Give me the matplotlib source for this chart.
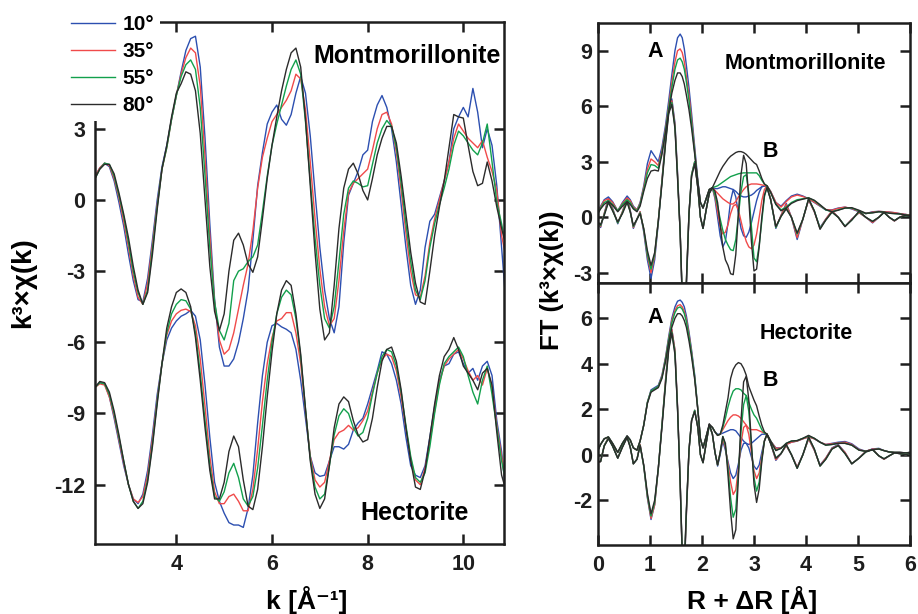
import numpy as np
import matplotlib
matplotlib.use("Agg")
import matplotlib.pyplot as plt

plt.rcParams['font.family'] = ['Liberation Sans', 'DejaVu Sans']
plt.rcParams['font.weight'] = 'bold'
plt.rcParams['axes.unicode_minus'] = False

angles = ['10°', '35°', '55°', '80°']
colors = ['#2c4fb0', '#f04a4a', '#12a04c', '#2b2b2b']

# ---- left panel: k^3 chi(k), k grid 2.3 .. 10.9 step 0.1
k = np.round(np.arange(2.3, 10.95, 0.1), 2)

mont_10 = [1.0, 1.35, 1.55, 1.4, 0.8, -0.1, -1.1, -2.3, -3.4, -4.2,
           -4.3, -3.3, -1.7, 0.0, 1.4, 2.3, 3.4, 4.4, 5.4, 6.3,
           6.8, 6.9, 5.6, 2.6, -1.0, -4.2, -6.2, -7.0, -7.0, -6.7,
           -6.0, -5.0, -3.8, -1.7, 0.6, 2.0, 3.2, 3.7, 4.0, 3.4,
           3.15, 3.6, 4.5, 5.2, 4.5, 2.7, 0.3, -2.0, -3.8, -5.0,
           -5.6, -4.5, -1.8, 0.2, 0.7, 1.2, 1.9, 2.1, 3.3, 4.0,
           4.4, 3.9, 3.0, 1.6, -0.2, -2.0, -3.6, -4.4, -3.8, -2.0,
           -0.9, -0.6, 0.1, 0.8, 1.6, 3.0, 3.5, 3.9, 3.5, 4.7,
           3.7, 2.2, 3.0, 2.3, 0.6, -2.0, -4.6]
mont_35 = [1.0, 1.35, 1.55, 1.45, 0.9, 0.1, -0.9, -2.0, -3.2, -4.1,
           -4.4, -3.5, -1.9, -0.2, 1.3, 2.2, 3.4, 4.4, 5.3, 6.0,
           6.4, 6.2, 4.8, 1.8, -1.5, -4.3, -5.9, -6.5, -6.3, -5.6,
           -4.6, -3.6, -2.7, -1.3, 0.5, 1.8, 2.6, 3.3, 3.6, 3.9,
           4.2, 4.6, 5.3, 5.1, 3.8, 1.6, -0.8, -2.9, -4.5, -5.3,
           -5.0, -3.4, -1.3, 0.3, 0.7, 0.9, 1.1, 1.3, 2.1, 3.0,
           3.6, 3.7, 3.2, 2.0, 0.4, -1.4, -3.0, -4.0, -4.1, -3.2,
           -1.8, -0.8, 0.0, 0.8, 1.6, 2.6, 3.2, 2.9, 2.6, 2.4,
           2.2, 2.5, 1.8, 1.2, 0.4, -1.5, -2.5]
mont_55 = [0.9, 1.3, 1.55, 1.5, 1.0, 0.2, -0.7, -1.8, -3.0, -3.9,
           -4.4, -3.8, -2.1, -0.3, 1.3, 2.2, 3.4, 4.4, 5.2, 5.7,
           5.9, 5.5, 3.9, 1.0, -2.0, -4.3, -5.5, -5.9, -5.2, -3.4,
           -3.0, -2.9, -2.6, -2.4, -1.9, -0.5, 1.0, 2.3, 3.2, 4.0,
           4.8, 5.5, 5.9, 5.3, 3.3, 0.8, -1.6, -3.6, -5.0, -5.4,
           -4.5, -2.6, -0.6, 0.5, 0.8, 0.7, 0.55, 0.6, 1.5, 2.4,
           3.0, 3.35, 3.1, 2.2, 0.7, -1.0, -2.6, -3.8, -4.2, -3.4,
           -2.0, -1.0, -0.2, 0.5, 1.3, 2.3, 2.9, 2.7, 2.4, 2.1,
           1.9, 2.4, 3.2, 1.6, -0.1, -1.0, -2.0]
mont_80 = [0.9, 1.3, 1.5, 1.5, 1.1, 0.3, -0.6, -1.6, -2.8, -3.8,
           -4.4, -3.9, -2.3, -0.4, 1.3, 2.3, 3.5, 4.5, 4.9, 5.4,
           5.3, 4.6, 2.8, 0.0, -2.8, -4.7, -5.5, -4.8, -3.0, -1.7,
           -1.4, -1.9, -2.7, -3.05, -2.4, -0.8, 0.9, 2.3, 3.5, 4.6,
           5.5, 6.2, 6.4, 5.6, 3.4, 0.6, -2.2, -4.6, -5.9, -5.6,
           -3.6, -1.2, 0.5, 1.3, 1.55, 1.1, 0.4, 0.0, 0.9, 1.9,
           2.6, 3.1, 3.1, 2.4, 1.0, -0.6, -2.2, -3.5, -4.3, -4.4,
           -3.0, -1.5, -0.3, 0.8, 2.2, 3.6, 3.5, 3.45, 2.3, 1.2,
           0.6, 0.7, 1.6, 0.8, -0.3, -1.2, -2.0]

hect_10 = [-7.9, -7.7, -7.75, -8.3, -9.2, -10.2, -11.2, -12.0, -12.6, -12.8,
           -12.4, -11.4, -9.9, -8.2, -6.9, -5.9, -5.4, -5.1, -4.9, -4.8,
           -4.65, -4.9, -5.9, -7.8, -10.0, -11.9, -12.7, -13.2, -13.6, -13.7,
           -13.7, -13.8, -13.0, -11.6, -9.4, -7.4, -6.0, -5.3, -5.2, -5.35,
           -5.45, -5.6, -6.3, -7.6, -9.2, -10.8, -11.5, -11.65, -11.6, -11.0,
           -10.4, -10.4, -10.5, -10.3, -9.7, -9.4, -9.2, -8.6, -7.9, -7.2,
           -6.4, -6.5, -6.9, -7.6, -8.6, -10.0, -11.2, -11.6, -11.7, -11.2,
           -10.0, -8.7, -7.6, -7.0, -6.9, -6.5, -6.4, -6.9, -7.3, -7.1,
           -7.6, -7.0, -6.8, -7.4, -9.3, -10.6, -12.6]
hect_35 = [-7.9, -7.75, -7.8, -8.3, -9.1, -10.1, -11.1, -12.0, -12.6, -12.75,
           -12.5, -11.6, -10.1, -8.4, -6.9, -5.7, -5.1, -4.8, -4.65, -4.6,
           -4.7, -5.3, -6.7, -8.7, -10.8, -12.3, -12.8, -12.8, -12.5, -12.4,
           -12.7, -13.1, -13.1, -12.2, -10.5, -8.5, -6.9, -5.8, -5.1, -5.0,
           -4.75, -4.75, -5.6, -6.9, -8.9, -10.8, -11.8, -12.1, -11.9, -11.0,
           -10.1, -9.8, -9.7, -9.5, -9.7, -9.6, -9.3, -8.9, -8.1, -7.3,
           -6.7, -6.5, -6.6, -7.2, -8.3, -9.6, -10.9, -11.8, -12.0, -11.3,
           -10.2, -8.9, -7.7, -7.0, -6.7, -6.5, -6.3, -6.7, -7.2, -7.6,
           -7.4, -7.8, -7.1, -7.9, -9.5, -10.8, -12.2]
hect_55 = [-7.9, -7.7, -7.75, -8.2, -9.0, -10.0, -11.0, -12.0, -12.7, -13.0,
           -12.7, -11.8, -10.3, -8.5, -6.9, -5.6, -4.8, -4.4, -4.2, -4.25,
           -4.6, -5.6, -7.3, -9.3, -11.2, -12.5, -12.7, -12.3, -11.5, -11.1,
           -11.7, -12.6, -12.9, -12.5, -11.3, -9.5, -7.6, -6.0, -4.8, -4.1,
           -3.8, -4.0, -5.0, -6.6, -8.8, -10.9, -12.1, -12.6, -12.4, -11.2,
           -9.9, -9.1, -8.8, -9.0, -9.6, -9.95, -9.8, -9.2, -8.2, -7.3,
           -6.6, -6.3, -6.4, -7.0, -8.1, -9.5, -10.8, -11.7, -11.9, -11.5,
           -10.4, -9.0, -7.8, -6.9, -6.6, -6.4, -6.2, -6.6, -7.4, -8.1,
           -8.6, -7.6, -7.0, -8.2, -9.6, -11.0, -12.0]
hect_80 = [-7.9, -7.65, -7.7, -8.1, -8.9, -9.9, -11.0, -12.0, -12.7, -13.0,
           -12.8, -11.9, -10.4, -8.6, -6.9, -5.4, -4.5, -3.9, -3.75, -3.9,
           -4.5, -5.8, -7.6, -9.6, -11.4, -12.6, -12.6, -11.9, -10.6, -9.95,
           -10.4, -11.8, -12.9, -13.05, -12.2, -10.4, -8.3, -6.4, -4.8, -3.8,
           -3.4, -3.6, -4.8, -6.5, -8.8, -11.0, -12.4, -13.0, -12.6, -11.2,
           -9.6, -8.6, -8.3, -8.5, -9.3, -9.9, -10.2, -10.1, -9.2, -7.9,
           -6.8, -6.3, -6.2, -6.8, -8.0, -9.6, -11.0, -12.1, -12.2, -11.4,
           -10.0, -8.6, -7.4, -6.6, -6.3, -5.8, -6.3, -7.0, -7.3, -7.6,
           -8.0, -7.3, -7.1, -7.8, -9.8, -11.6, -12.3]

# ---- right panels: FT magnitude and imaginary part vs R + dR
r_ft = [0.0, 0.05, 0.12, 0.2, 0.28, 0.38, 0.47, 0.56, 0.62, 0.68, 0.75, 0.81, 0.88,
        0.95, 1.02, 1.09, 1.16, 1.23, 1.3, 1.36, 1.42, 1.48, 1.53, 1.58, 1.62,
        1.66, 1.7, 1.75, 1.8, 1.86, 1.92, 1.97, 2.02,
        2.08, 2.14, 2.2, 2.25, 2.3, 2.35, 2.4, 2.45, 2.5, 2.55, 2.6, 2.65,
        2.7, 2.75, 2.8, 2.85, 2.9, 2.95, 3.0, 3.05, 3.1, 3.15, 3.2, 3.25,
        3.32, 3.42, 3.52, 3.62, 3.72, 3.83, 3.94, 4.05, 4.16, 4.27, 4.38, 4.5,
        4.62, 4.75, 4.88, 5.02, 5.15, 5.28, 5.4, 5.5, 5.6, 5.7, 5.8, 5.92, 6.0]

ftm_mag_10 = [0.35, 0.6, 0.95, 1.1, 0.85, 0.35, 0.8, 1.15, 0.95, 0.6, 0.4, 0.8, 1.7, 2.9, 3.6, 3.3, 3.0,
              3.8, 5.0, 6.3, 7.7, 9.0, 9.7, 9.9, 9.7, 9.1, 8.2, 7.0, 5.6, 3.8, 2.0, 0.8, 0.5,
              1.0, 1.5, 1.6, 1.55, 1.55, 1.6, 1.65, 1.65, 1.6, 1.55, 1.5, 1.4, 1.25, 1.15, 1.1, 1.1,
              1.15, 1.2, 1.3, 1.45, 1.55, 1.65, 1.7, 1.7,
              1.4, 0.8, 0.6, 0.9, 1.15, 1.25, 1.15, 1.0, 0.8, 0.6, 0.4, 0.4, 0.5, 0.55, 0.45,
              0.3, 0.2, 0.3, 0.32, 0.3, 0.28, 0.25, 0.2, 0.15, 0.12]
ftm_mag_35 = [0.3, 0.55, 0.9, 1.0, 0.8, 0.35, 0.75, 1.05, 0.9, 0.55, 0.4, 0.75, 1.6, 2.6, 3.15, 3.0, 2.8,
              3.6, 4.8, 6.0, 7.3, 8.4, 9.0, 9.1, 8.9, 8.4, 7.6, 6.6, 5.3, 3.6, 1.9, 0.8, 0.5,
              1.0, 1.5, 1.6, 1.45, 1.3, 1.15, 1.0, 0.9, 0.8, 0.72, 0.72, 0.85, 1.1, 1.3, 1.5, 1.65,
              1.75, 1.8, 1.8, 1.8, 1.78, 1.75, 1.72, 1.7,
              1.4, 0.8, 0.55, 0.85, 1.1, 1.2, 1.12, 1.0, 0.82, 0.62, 0.42, 0.38, 0.48, 0.55, 0.47,
              0.32, 0.2, 0.28, 0.32, 0.3, 0.28, 0.25, 0.2, 0.15, 0.12]
ftm_mag_55 = [0.25, 0.5, 0.8, 0.9, 0.7, 0.35, 0.7, 0.95, 0.8, 0.5, 0.35, 0.7, 1.5, 2.4, 2.85, 2.8, 2.65,
              3.5, 4.7, 5.9, 7.0, 8.0, 8.5, 8.6, 8.4, 8.0, 7.3, 6.3, 5.1, 3.5, 1.9, 0.8, 0.5,
              1.0, 1.5, 1.6, 1.65, 1.7, 1.8, 1.9, 2.0, 2.1, 2.2, 2.25, 2.3, 2.35, 2.38, 2.4, 2.4,
              2.4, 2.4, 2.4, 2.4, 2.25, 2.0, 1.8, 1.7,
              1.35, 0.7, 0.4, 0.55, 0.8, 0.95, 1.0, 1.05, 0.9, 0.65, 0.4, 0.3, 0.4, 0.5, 0.5,
              0.35, 0.2, 0.25, 0.3, 0.28, 0.22, 0.2, 0.18, 0.12, 0.1]
ftm_mag_80 = [0.2, 0.45, 0.7, 0.85, 0.65, 0.3, 0.6, 0.85, 0.7, 0.45, 0.3, 0.6, 1.4, 2.1, 2.5, 2.55, 2.5,
              3.4, 4.6, 5.7, 6.7, 7.4, 7.8, 7.8, 7.6, 7.2, 6.6, 5.8, 4.8, 3.4, 1.9, 0.8, 0.5,
              1.0, 1.5, 1.6, 1.9, 2.2, 2.5, 2.75, 2.95, 3.15, 3.3, 3.4, 3.5, 3.55, 3.55, 3.5, 3.4,
              3.25, 3.1, 2.95, 2.85, 2.5, 2.1, 1.8, 1.7,
              1.35, 0.7, 0.35, 0.5, 0.75, 0.9, 0.98, 1.05, 0.92, 0.68, 0.42, 0.3, 0.38, 0.5, 0.52,
              0.38, 0.22, 0.24, 0.3, 0.28, 0.22, 0.2, 0.18, 0.12, 0.1]

ftm_im_10 = [-0.35, -0.55, 0.2, 1.05, 0.5, -0.35, 0.3, 1.1, 0.4, -0.6, -0.1, 0.3, -0.8, -2.3, -3.3, -2.3,
             -0.3, 2.0, 4.3, 5.9, 6.4, 5.1, 2.4, -0.8, -4.5, -6.5, -3.8, 0.2, 2.3, 3.0, 1.6, 0.0, -0.6,
             0.4, 1.3, 1.6, 1.0, 0.0, -1.0, -1.6, -1.3, -0.3, 0.9, 1.5, 1.1, 0.2, -0.6, -1.0, -1.08,
             -0.8, -0.3, 0.3, 0.9, 1.35, 1.65, 1.7, 1.6,
             1.0, -0.6, 0.1, 0.75, 0.0, -1.2, -0.1, 0.95, 0.3, -0.55, -0.1, 0.35, 0.0, -0.5, -0.1,
             0.25, 0.0, -0.3, 0.0, 0.28, 0.0, -0.2, 0.0, 0.15, 0.05]
ftm_im_35 = [-0.3, -0.5, 0.2, 0.95, 0.45, -0.3, 0.3, 1.0, 0.35, -0.55, -0.1, 0.3, -0.7, -2.1, -3.0, -2.1,
             -0.2, 2.0, 4.2, 5.8, 6.3, 5.0, 2.3, -0.8, -4.4, -6.2, -3.6, 0.2, 2.3, 3.0, 1.6, 0.0, -0.6,
             0.4, 1.3, 1.6, 1.1, 0.3, -0.5, -0.9, -0.8, -0.4, 0.2, 0.6, 0.7, 0.4, -0.2, -0.8, -1.3,
             -1.6, -1.7, -1.5, -0.9, 0.0, 0.9, 1.5, 1.7,
             1.0, -0.55, 0.1, 0.7, 0.0, -1.1, -0.1, 0.95, 0.3, -0.6, -0.1, 0.35, 0.0, -0.5, -0.1,
             0.25, 0.0, -0.28, 0.0, 0.28, 0.0, -0.2, 0.0, 0.15, 0.05]
ftm_im_55 = [-0.3, -0.45, 0.15, 0.85, 0.4, -0.3, 0.25, 0.9, 0.3, -0.5, -0.1, 0.25, -0.65, -2.0, -2.8, -2.0,
             -0.2, 1.9, 4.1, 5.7, 6.2, 4.9, 2.2, -0.8, -4.3, -6.0, -3.5, 0.2, 2.3, 3.0, 1.6, 0.0, -0.6,
             0.4, 1.3, 1.6, 1.2, 0.6, -0.1, -0.7, -1.2, -1.5, -1.75, -1.8, -1.2, 0.1, 1.4, 2.2, 2.3,
             1.3, -0.5, -2.2, -2.4, -1.5, -0.2, 1.1, 1.65,
             0.95, -0.55, 0.05, 0.5, 0.0, -0.9, -0.1, 1.0, 0.35, -0.6, -0.15, 0.28, 0.0, -0.48, -0.15,
             0.3, 0.0, -0.22, 0.0, 0.26, 0.0, -0.18, 0.0, 0.1, 0.05]
ftm_im_80 = [-0.25, -0.4, 0.1, 0.8, 0.35, -0.25, 0.2, 0.8, 0.3, -0.45, -0.1, 0.2, -0.6, -1.8, -2.6, -1.9,
             -0.2, 1.8, 4.0, 5.6, 6.1, 4.8, 2.1, -0.8, -4.2, -5.8, -3.4, 0.2, 2.2, 2.9, 1.6, 0.0, -0.6,
             0.4, 1.3, 1.6, 1.4, 0.8, -0.4, -1.6, -2.3, -2.6, -3.05, -3.1, -2.0, 0.2, 2.3, 3.35, 2.9,
             1.0, -1.3, -2.9, -2.8, -1.6, 0.0, 1.2, 1.6,
             0.95, -0.5, 0.05, 0.45, 0.0, -0.85, -0.1, 1.0, 0.35, -0.65, -0.15, 0.28, 0.0, -0.5, -0.15,
             0.33, 0.0, -0.22, 0.0, 0.26, 0.0, -0.18, 0.0, 0.1, 0.05]

fth_mag_10 = [0.2, 0.45, 0.7, 0.78, 0.5, 0.1, 0.5, 0.83, 0.65, 0.3, 0.2, 0.6, 1.3, 2.3, 2.85, 2.95, 3.05,
              3.5, 4.3, 5.2, 6.0, 6.5, 6.75, 6.8, 6.7, 6.5, 6.1, 5.4, 4.6, 3.5, 2.0, 0.7, 0.3,
              0.8, 1.3, 1.2, 1.0, 0.9, 0.9, 0.95, 1.0, 1.05, 1.1, 1.1, 1.05, 0.9, 0.75, 0.6, 0.5,
              0.45, 0.5, 0.6, 0.7, 0.8, 0.9, 0.9, 0.9,
              0.6, 0.3, 0.3, 0.45, 0.55, 0.6, 0.7, 0.78, 0.7, 0.55, 0.45, 0.5, 0.55, 0.58, 0.48,
              0.25, 0.15, 0.25, 0.28, 0.18, 0.12, 0.1, 0.1, 0.08, 0.1]
fth_mag_35 = [0.2, 0.45, 0.7, 0.78, 0.5, 0.1, 0.5, 0.82, 0.65, 0.3, 0.2, 0.6, 1.3, 2.3, 2.8, 2.9, 3.0,
              3.45, 4.25, 5.1, 5.9, 6.35, 6.55, 6.6, 6.5, 6.3, 5.95, 5.3, 4.5, 3.4, 2.0, 0.7, 0.3,
              0.8, 1.3, 1.2, 1.0, 0.85, 0.9, 1.1, 1.3, 1.5, 1.65, 1.75, 1.75, 1.7, 1.6, 1.45, 1.3,
              1.15, 1.1, 1.1, 1.1, 1.05, 1.0, 0.95, 0.9,
              0.6, 0.28, 0.3, 0.45, 0.55, 0.6, 0.7, 0.78, 0.7, 0.55, 0.45, 0.48, 0.52, 0.55, 0.45,
              0.22, 0.15, 0.24, 0.26, 0.18, 0.12, 0.1, 0.1, 0.08, 0.1]
fth_mag_55 = [0.2, 0.45, 0.7, 0.78, 0.5, 0.1, 0.5, 0.82, 0.65, 0.3, 0.2, 0.6, 1.3, 2.3, 2.8, 2.9, 3.0,
              3.4, 4.2, 5.05, 5.8, 6.25, 6.45, 6.5, 6.4, 6.2, 5.85, 5.2, 4.45, 3.4, 2.0, 0.7, 0.3,
              0.8, 1.3, 1.2, 1.0, 0.85, 0.9, 1.2, 1.6, 2.1, 2.5, 2.8, 2.9, 2.9, 2.85, 2.7, 2.6,
              2.3, 2.0, 1.75, 1.6, 1.35, 1.1, 0.95, 0.9,
              0.6, 0.2, 0.28, 0.5, 0.6, 0.62, 0.72, 0.82, 0.72, 0.55, 0.42, 0.45, 0.5, 0.5, 0.42,
              0.2, 0.15, 0.22, 0.25, 0.18, 0.12, 0.1, 0.1, 0.08, 0.1]
fth_mag_80 = [0.2, 0.45, 0.7, 0.78, 0.5, 0.1, 0.5, 0.82, 0.65, 0.3, 0.2, 0.6, 1.3, 2.25, 2.75, 2.85, 2.95,
              3.35, 4.1, 4.9, 5.6, 6.0, 6.2, 6.2, 6.1, 5.9, 5.6, 5.0, 4.3, 3.3, 1.95, 0.7, 0.3,
              0.8, 1.35, 1.2, 1.0, 0.85, 0.9, 1.3, 1.9, 2.5, 3.35, 3.75, 3.95, 4.05, 4.0, 3.8, 3.5,
              3.0, 2.7, 2.4, 2.15, 1.7, 1.3, 1.0, 0.9,
              0.6, 0.18, 0.28, 0.5, 0.6, 0.62, 0.72, 0.85, 0.72, 0.55, 0.42, 0.45, 0.5, 0.5, 0.42,
              0.2, 0.15, 0.22, 0.25, 0.18, 0.12, 0.1, 0.1, 0.08, 0.1]

fth_im_10 = [-0.35, -0.3, 0.4, 0.75, 0.4, -0.15, 0.35, 0.8, 0.35, -0.4, -0.2, 0.45, -0.5, -1.9, -2.85, -2.2,
             -0.6, 1.3, 3.3, 4.8, 5.5, 4.6, 2.1, -1.2, -4.5, -5.2, -2.6, 0.2, 1.5, 1.95, 1.2, 0.0, -0.35,
             0.5, 1.3, 0.9, 0.1, -0.5, 0.0, 0.6, 0.2, -0.3, -0.8, -1.05, -0.9, -0.4, 0.2, 0.5, 0.5,
             0.3, -0.1, -0.5, -0.65, -0.45, 0.1, 0.6, 0.9,
             0.5, -0.25, 0.05, 0.4, 0.0, -0.55, 0.0, 0.7, 0.2, -0.45, -0.15, 0.3, 0.45, 0.1, -0.4,
             -0.15, 0.15, 0.25, -0.05, -0.2, -0.05, 0.08, 0.05, 0.0, 0.05]
fth_im_35 = [-0.35, -0.3, 0.4, 0.75, 0.4, -0.15, 0.35, 0.8, 0.35, -0.4, -0.2, 0.45, -0.5, -1.85, -2.8, -2.2,
             -0.6, 1.3, 3.3, 4.8, 5.5, 4.6, 2.1, -1.2, -4.5, -5.1, -2.6, 0.2, 1.5, 1.95, 1.2, 0.0, -0.35,
             0.5, 1.3, 0.9, 0.1, -0.45, 0.1, 0.7, 0.3, -0.4, -1.2, -1.75, -1.55, -0.6, 0.5, 1.2, 1.3,
             0.9, 0.1, -0.7, -1.05, -0.8, -0.1, 0.6, 0.9,
             0.5, -0.22, 0.05, 0.4, 0.0, -0.55, 0.0, 0.7, 0.2, -0.48, -0.15, 0.28, 0.42, 0.1, -0.4,
             -0.15, 0.15, 0.24, -0.05, -0.2, -0.05, 0.08, 0.05, 0.0, 0.05]
fth_im_55 = [-0.3, -0.3, 0.4, 0.72, 0.38, -0.15, 0.35, 0.78, 0.35, -0.4, -0.2, 0.42, -0.5, -1.8, -2.7, -2.1,
             -0.6, 1.3, 3.2, 4.7, 5.4, 4.5, 2.0, -1.2, -4.4, -5.0, -2.5, 0.2, 1.5, 1.95, 1.2, 0.0, -0.35,
             0.5, 1.3, 0.9, 0.1, -0.45, 0.1, 0.8, 0.4, -0.6, -1.9, -2.75, -2.4, -0.8, 1.0, 2.2, 2.6,
             1.9, 0.4, -1.0, -1.6, -1.2, -0.2, 0.6, 0.9,
             0.5, -0.15, 0.05, 0.45, 0.0, -0.6, 0.0, 0.75, 0.25, -0.5, -0.2, 0.25, 0.4, 0.05, -0.4,
             -0.15, 0.12, 0.22, -0.05, -0.18, -0.05, 0.08, 0.05, 0.0, 0.05]
fth_im_80 = [-0.3, -0.3, 0.38, 0.7, 0.38, -0.15, 0.32, 0.75, 0.32, -0.4, -0.2, 0.4, -0.45, -1.7, -2.6, -2.0,
             -0.6, 1.2, 3.1, 4.6, 5.35, 4.4, 2.0, -1.2, -4.3, -4.9, -2.4, 0.2, 1.5, 1.9, 1.2, 0.0, -0.35,
             0.5, 1.35, 0.9, 0.1, -0.45, 0.1, 0.8, 0.5, -0.9, -2.5, -3.7, -3.3, -1.0, 1.5, 3.2, 3.45,
             2.4, 0.5, -1.3, -2.1, -1.5, -0.3, 0.6, 0.9,
             0.5, -0.15, 0.05, 0.45, 0.0, -0.6, 0.0, 0.78, 0.25, -0.5, -0.2, 0.25, 0.4, 0.05, -0.4,
             -0.15, 0.12, 0.22, -0.05, -0.18, -0.05, 0.08, 0.05, 0.0, 0.05]

mont_chi = [mont_10, mont_35, mont_55, mont_80]
hect_chi = [hect_10, hect_35, hect_55, hect_80]
ftm_mag = [ftm_mag_10, ftm_mag_35, ftm_mag_55, ftm_mag_80]
ftm_im = [ftm_im_10, ftm_im_35, ftm_im_55, ftm_im_80]
fth_mag = [fth_mag_10, fth_mag_35, fth_mag_55, fth_mag_80]
fth_im = [fth_im_10, fth_im_35, fth_im_55, fth_im_80]


def style(ax):
    for s in ax.spines.values():
        s.set_linewidth(1.8)
        s.set_color('#1e1e1e')
    ax.tick_params(direction='in', length=7, width=1.8, top=True, right=True,
                   labelsize=15.5, colors='#1e1e1e')


fig = plt.figure(figsize=(9.18, 6.14), dpi=100)
ax1 = fig.add_axes([0.1035, 0.114, 0.4455, 0.8502])
ax2 = fig.add_axes([0.6514, 0.5391, 0.3399, 0.4235])
ax3 = fig.add_axes([0.6514, 0.1124, 0.3399, 0.4267])

lw = 1.0
for i in range(4):
    ax1.plot(k, mont_chi[i], color=colors[i], lw=lw, label=angles[i])
    ax1.plot(k, hect_chi[i], color=colors[i], lw=lw)
    ax2.plot(r_ft, ftm_mag[i], color=colors[i], lw=lw)
    ax2.plot(r_ft, ftm_im[i], color=colors[i], lw=lw)
    ax3.plot(r_ft, fth_mag[i], color=colors[i], lw=lw)
    ax3.plot(r_ft, fth_im[i], color=colors[i], lw=lw)

# left panel
style(ax1)
ax1.set_xlim(2.3, 10.85)
ax1.set_ylim(-14.5, 7.5)
ax1.set_xticks([4, 6, 8, 10])
ax1.set_yticks([3, 0, -3, -6, -9, -12])
ax1.tick_params(axis='y', pad=7)
ax1.tick_params(axis='x', pad=7)
ax1.text(10.79, 6.05, 'Montmorillonite', ha='right', va='center', fontsize=18)
ax1.text(10.12, -13.2, 'Hectorite', ha='right', va='center', fontsize=18)
leg = ax1.legend(loc='upper left', bbox_to_anchor=(0.0708, 0.985),
                 bbox_transform=fig.transFigure, fontsize=15, frameon=True,
                 fancybox=False, handlelength=2.1, handletextpad=0.35,
                 labelspacing=0.38, borderpad=0.3, borderaxespad=0)
leg.get_frame().set_facecolor('white')
leg.get_frame().set_edgecolor('none')
leg.get_frame().set_alpha(1)
leg.set_zorder(10)

# right top
style(ax2)
ax2.set_xlim(0, 6)
ax2.set_ylim(-3.55, 10.5)
ax2.set_xticks(range(7))
ax2.set_yticks([9, 6, 3, 0, -3])
ax2.tick_params(axis='x', labelbottom=False)
ax2.tick_params(axis='y', pad=4)
ax2.text(1.1, 8.94, 'A', ha='center', va='center', fontsize=15.5)
ax2.text(3.98, 8.29, 'Montmorillonite', ha='center', va='center', fontsize=15.5)
ax2.text(3.31, 3.53, 'B', ha='center', va='center', fontsize=15.5)

# right bottom
style(ax3)
ax3.set_xlim(0, 6)
ax3.set_ylim(-3.97, 7.55)
ax3.set_xticks(range(7))
ax3.set_yticks([6, 4, 2, 0, -2])
ax3.tick_params(axis='y', pad=4)
ax3.tick_params(axis='x', pad=7)
ax3.text(1.1, 6.05, 'A', ha='center', va='center', fontsize=15.5)
ax3.text(4.0, 5.35, 'Hectorite', ha='center', va='center', fontsize=15.5)
ax3.text(3.31, 3.25, 'B', ha='center', va='center', fontsize=15.5)

fig.text(0.334, 0.023, 'k [Å⁻¹]', ha='center', va='center', fontsize=19)
fig.text(0.025, 0.539, 'k³×χ(k)', ha='center', va='center', rotation=90, fontsize=20)
fig.text(0.819, 0.023, 'R + ΔR [Å]', ha='center', va='center', fontsize=19)
fig.text(0.601, 0.544, 'FT (k³×χ(k))', ha='center', va='center', rotation=90, fontsize=18.5)

fig.savefig('out.png', dpi=100)
